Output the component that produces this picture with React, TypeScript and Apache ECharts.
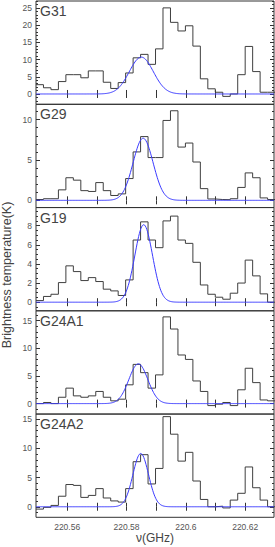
import React, { useEffect, useRef } from "react";
import * as echarts from "echarts";

// ---- data ----
const sources = ["G31", "G29", "G19", "G24A1", "G24A2"];
const freqStart = 220.5495; // GHz, left edge of first channel
const freqEnd = 220.62972; // GHz, right end of axis
const channelWidth = 0.002518; // GHz

const g31 = [2.7, 1.8, 1.25, 3.6, 5.6, 5.6, 4.7, 6.7, 6.7, 3.4, 1.6, 3.3, 6.1, 10.5, 11.5, 8.6, 13.1, 25, 20.8, 18.3, 19.8, 13.9, 4.4, 1.5, 0.5, -0.7, 0, 5.6, 13.8, 6.5, 0.5, 0.5];
const g29 = [0.1, 0.2, 0.2, 1.3, 2.8, 2.5, 1.2, 1.1, 2.2, 1.2, 0.6, 0.8, 2.7, 6.0, 7.9, 5.3, 5.3, 9.9, 11.1, 6.6, 7.1, 4.75, 1.45, 0.17, 0.1, 0.08, 0.2, 1.6, 3.4, 2.8, 0.3, 0.1];
const g19 = [0.17, 0.6, 0.83, 2.05, 3.8, 3.2, 2.26, 2.57, 2.16, 1.36, 1.18, 0.7, 2.33, 6.5, 8.4, 6.5, 5.7, 8.5, 9.0, 6.5, 6.15, 4.17, 1.8, 0.83, 0.52, 0.31, 0.94, 2.0, 4.4, 2.75, 0.87, 0];
const g24a1 = [0, 0.2, 0, 1.15, 2.8, 1.4, 1.15, 1.4, 2.2, 1.15, 0.5, 0.8, 3.4, 7.1, 5.6, 2.8, 5.2, 15.7, 13.5, 8.8, 8.0, 4.1, 2.2, -0.36, -0.1, 0.2, -0.36, 2.5, 6.4, 3.8, 0.66, 0.5];
const g24a2 = [-0.4, -0.1, 0.23, 1.8, 3.8, 3.65, 1.6, 1.94, 3.1, 1.5, 1.0, 0.8, 3.1, 7.7, 8.9, 3.9, 6.55, 15.4, 12.4, 7.8, 9.3, 4.4, 1.25, 0, 0.1, -0.2, 1.14, 2.3, 6.8, 3.25, 1.14, 0];
const spectra = [g31, g29, g19, g24a1, g24a2];

// Gaussian fit parameters (K, GHz, GHz)
const gaussAmp = [10.7, 7.7, 8.1, 7.2, 9.1];
const gaussCenter = [220.585, 220.5856, 220.5858, 220.584, 220.5848];
const gaussSigma = [0.00405, 0.00337, 0.00297, 0.0032, 0.00263];

// axes
const yMin = [-3, -0.9, -0.9, -1.9, -1.8];
const yMax = [27, 11.9, 9.9, 16.8, 15.85];
const yMajorTicks = [
  [0, 5, 10, 15, 20, 25],
  [0, 5, 10],
  [0, 2, 4, 6, 8],
  [0, 5, 10, 15],
  [0, 5, 10, 15],
];
const yMinorStep = [1, 1, 0.5, 1, 1];
const xTicks = [220.56, 220.57, 220.58, 220.59, 220.6, 220.61, 220.62];
const xTickLabels = [220.56, 220.58, 220.6, 220.62];

// ---- layout ----
const PANEL_TOP = [1, 104.3, 207.5, 310.8, 414];
const PANEL_H = 103.3;
const LEFT = 36;
const PLOT_W = 238;
const FONT = "'Liberation Sans', Arial, sans-serif";

function minorTicks(i: number): number[] {
  const out: number[] = [];
  const step = yMinorStep[i];
  const start = Math.ceil(yMin[i] / step) * step;
  for (let v = start; v <= yMax[i] + 1e-9; v += step) {
    const r = Math.round(v * 1000) / 1000;
    if (!yMajorTicks[i].includes(r)) out.push(r);
  }
  return out;
}

function buildOption() {
  const grid: any[] = [];
  const xAxis: any[] = [];
  const yAxis: any[] = [];
  const series: any[] = [];
  const title: any[] = [];

  const edges: number[] = [];
  for (let k = 0; k <= 32; k++) edges.push(freqStart + k * channelWidth);

  sources.forEach((name, i) => {
    grid.push({
      left: LEFT,
      top: PANEL_TOP[i],
      width: PLOT_W,
      height: PANEL_H,
      show: true,
      borderColor: "#333",
      borderWidth: 1,
      backgroundColor: "transparent",
    });
    const isLast = i === sources.length - 1;
    const xBase = {
      type: "value",
      gridIndex: i,
      min: freqStart,
      max: freqEnd,
      axisLine: { show: false },
      splitLine: { show: false },
    };
    xAxis.push({
      ...xBase,
      position: "bottom",
      axisTick: { show: true, inside: true, length: 4, customValues: xTicks, lineStyle: { color: "#333" } },
      axisLabel: isLast
        ? {
            show: true,
            customValues: xTickLabels,
            fontSize: 8.5,
            color: "#555",
            fontFamily: FONT,
            margin: 5,
            formatter: (v: number) => String(Number(v.toFixed(2))),
          }
        : { show: false },
    });
    xAxis.push({
      ...xBase,
      position: "top",
      axisTick: { show: true, inside: true, length: 4, customValues: xTicks, lineStyle: { color: "#333" } },
      axisLabel: { show: false },
    });

    const yBase = {
      type: "value",
      gridIndex: i,
      min: yMin[i],
      max: yMax[i],
      axisLine: { show: false },
      splitLine: { show: false },
    };
    const minors = minorTicks(i);
    yAxis.push({
      ...yBase,
      position: "left",
      axisTick: { show: true, inside: true, length: 4, customValues: yMajorTicks[i], lineStyle: { color: "#333" } },
      axisLabel: {
        show: true,
        customValues: yMajorTicks[i],
        fontSize: 8.5,
        color: "#555",
        fontFamily: FONT,
        margin: 4,
      },
    });
    yAxis.push({
      ...yBase,
      position: "left",
      axisTick: { show: true, inside: true, length: 2, customValues: minors, lineStyle: { color: "#333" } },
      axisLabel: { show: false },
    });
    yAxis.push({
      ...yBase,
      position: "right",
      axisTick: { show: true, inside: true, length: 4, customValues: yMajorTicks[i], lineStyle: { color: "#333" } },
      axisLabel: { show: false },
    });
    yAxis.push({
      ...yBase,
      position: "right",
      axisTick: { show: true, inside: true, length: 2, customValues: minors, lineStyle: { color: "#333" } },
      axisLabel: { show: false },
    });

    const vals = spectra[i];
    const histData = edges.map((e, k) => [e, vals[Math.min(k, vals.length - 1)]]);
    series.push({
      type: "line",
      name: name + " spectrum",
      xAxisIndex: i * 2,
      yAxisIndex: i * 4,
      data: histData,
      step: "end",
      showSymbol: false,
      symbol: "none",
      lineStyle: { color: "#3f3f3f", width: 1 },
      z: 3,
    });

    const gauss: number[][] = [];
    const n = 320;
    for (let k = 0; k <= n; k++) {
      const f = freqStart + ((freqEnd - freqStart) * k) / n;
      const d = (f - gaussCenter[i]) / gaussSigma[i];
      gauss.push([f, gaussAmp[i] * Math.exp(-0.5 * d * d)]);
    }
    series.push({
      type: "line",
      name: name + " fit",
      xAxisIndex: i * 2,
      yAxisIndex: i * 4,
      data: gauss,
      showSymbol: false,
      symbol: "none",
      lineStyle: { color: "#3a3aff", width: 1 },
      z: 4,
    });

    title.push({
      text: name,
      left: 40,
      top: PANEL_TOP[i] + 3,
      textStyle: { fontSize: 14, fontWeight: "normal", color: "#444", fontFamily: FONT },
      padding: 0,
    });
  });

  return {
    animation: false,
    backgroundColor: "#fff",
    title,
    grid,
    xAxis,
    yAxis,
    series,
    graphic: [
      {
        type: "text",
        x: 155,
        y: 538,
        style: {
          text: "ν(GHz)",
          fontSize: 12,
          fill: "#444",
          fontFamily: FONT,
          textAlign: "center",
          textVerticalAlign: "middle",
        },
      },
      {
        type: "text",
        x: 7,
        y: 275,
        rotation: Math.PI / 2,
        style: {
          text: "Brightness temperature(K)",
          fontSize: 12.5,
          fill: "#444",
          fontFamily: FONT,
          textAlign: "center",
          textVerticalAlign: "middle",
        },
      },
    ],
  };
}

export default function App() {
  const ref = useRef<HTMLDivElement>(null);
  useEffect(() => {
    if (!ref.current) return;
    const chart = echarts.init(ref.current, null, { renderer: "svg" });
    chart.setOption(buildOption() as any);
    return () => chart.dispose();
  }, []);
  return (
    <div
      ref={ref}
      style={{ position: "absolute", left: 0, top: 0, width: 275, height: 547, background: "#fff" }}
    />
  );
}
